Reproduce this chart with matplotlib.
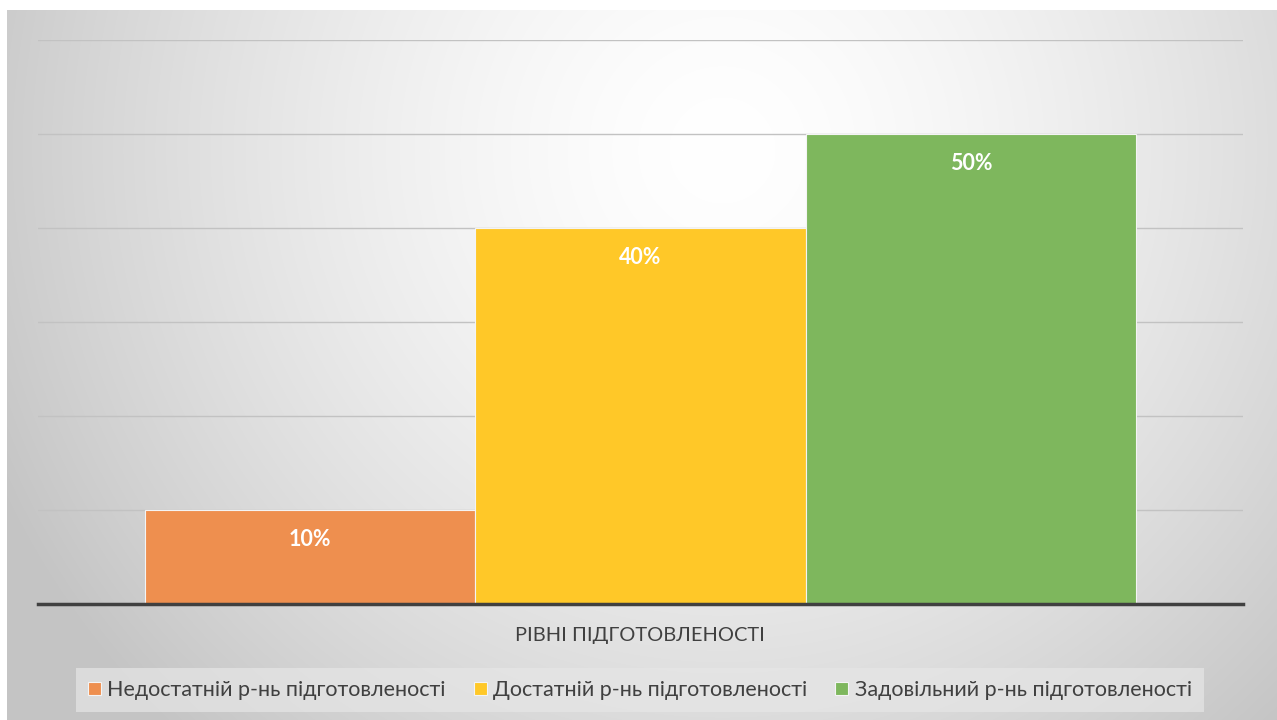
import numpy as np
import matplotlib
matplotlib.use("Agg")
import matplotlib.pyplot as plt
from matplotlib.patches import Rectangle

series_names = ["Недостатній р-нь підготовленості",
                "Достатній р-нь підготовленості",
                "Задовільний р-нь підготовленості"]
values = [0.10, 0.40, 0.50]
labels = ["10%", "40%", "50%"]
colors = ["#EE8F4F", "#FFC828", "#7EB75D"]
axis_title = "РІВНІ ПІДГОТОВЛЕНОСТІ"

plt.rcParams['font.family'] = ['Lato', 'DejaVu Sans']

W, H = 1277, 720
fig = plt.figure(figsize=(W/100, H/100), dpi=100)
fig.patch.set_facecolor("white")

# gradient background
bg = fig.add_axes([7/W, 0, (W-7)/W, (H-10)/H])
bg.set_axis_off()
yy, xx = np.mgrid[0:710, 0:1270]
cx, cy = 715, 140
r = np.sqrt((xx - cx)**2 + (yy - cy)**2) / 800.0
val = 1 - 0.23 * np.clip(r, 0, 1) ** 1.5
img = np.dstack([val, val, val])
bg.imshow(img, aspect='auto', extent=[0, 1, 0, 1], origin='upper')
bg.set_xlim(0, 1); bg.set_ylim(0, 1)

ax = fig.add_axes([38/W, (H-604)/H, 1205/W, (604-40)/H])
ax.patch.set_alpha(0)
x = [-1, 0, 1]
bars = ax.bar(x, values, width=1.0, color=colors, edgecolor="#f4f4f4", linewidth=0.8, zorder=3)
ax.set_xlim(-1.823, 1.823)
ax.set_ylim(0, 0.6)
ax.set_yticks(np.arange(0.1, 0.61, 0.1))
ax.yaxis.grid(True, color="#c2c2c2", linewidth=1.0, zorder=0)
ax.tick_params(left=False, labelleft=False, bottom=False, labelbottom=False)
for s in ["top", "right", "left"]:
    ax.spines[s].set_visible(False)
ax.spines["bottom"].set_color("#404040")
ax.spines["bottom"].set_linewidth(2.5)
ax.spines["bottom"].set_zorder(4)

for b, lab in zip(bars, labels):
    ax.annotate(lab, (b.get_x() + b.get_width()/2, b.get_height()),
                xytext=(0, -30), textcoords="offset pixels",
                ha="center", va="center", color="white", fontsize=15.5, fontweight="bold", zorder=5)

fig.text(640/W, 1 - 636/H, axis_title, ha="center", va="center", fontsize=14.4, color="#404040")

# legend
handles = [Rectangle((0, 0), 1, 1, facecolor=c, edgecolor="#f4f4f4", linewidth=0.8) for c in colors]
leg = fig.legend(handles, series_names, loc="center", bbox_to_anchor=(640/W, 1 - 690/H),
                 ncol=3, frameon=True, fontsize=15.5, handlelength=0.6, handleheight=0.6,
                 handletextpad=0.3, columnspacing=1.3, borderpad=0.55, fancybox=False,
                 labelcolor="#404040")
leg.get_frame().set_facecolor("#e6e6e6")
leg.get_frame().set_alpha(0.7)
leg.get_frame().set_edgecolor("none")

fig.savefig("out.png", dpi=100)
